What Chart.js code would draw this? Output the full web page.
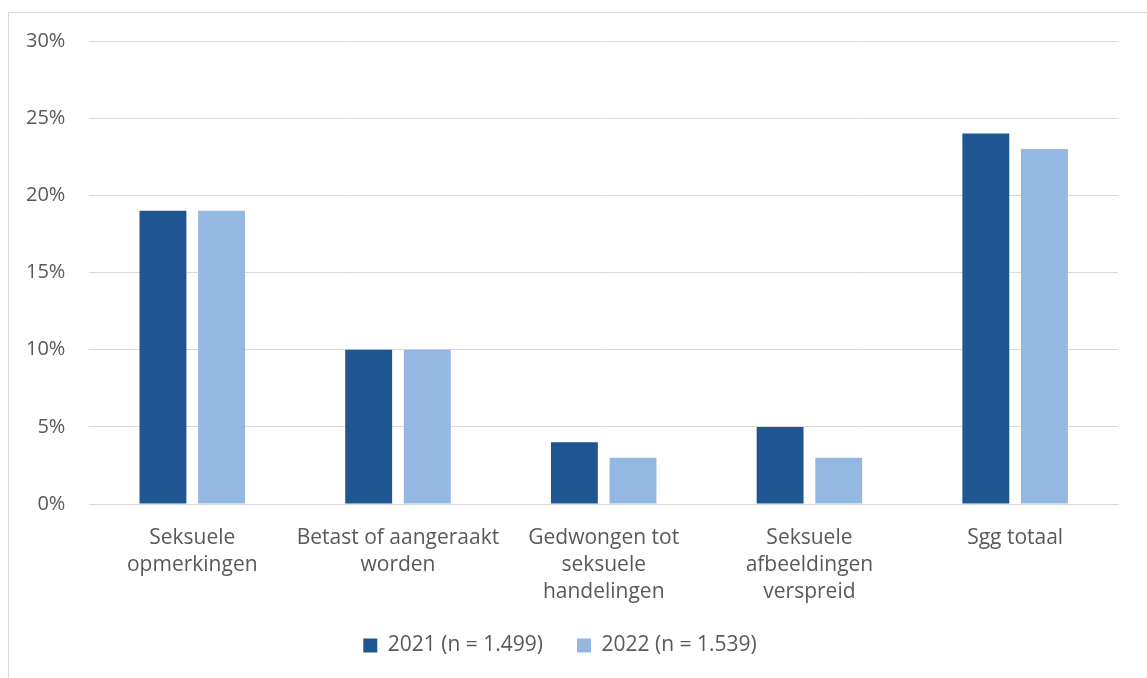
<!DOCTYPE html>
<html>
<head>
<meta charset="utf-8">
<script src="https://cdn.jsdelivr.net/npm/chart.js@4.4.0/dist/chart.umd.min.js"></script>
<style>
  html, body { margin: 0; padding: 0; background: #ffffff; overflow: hidden; }
  #frame {
    position: absolute; left: 8px; top: 12px; width: 1300px; height: 800px;
    border: 1px solid #d9d9d9; box-sizing: border-box;
  }
  #wrap { position: absolute; left: 0; top: 0; width: 1147px; height: 678px; }
</style>
</head>
<body>
<div id="frame"></div>
<div id="wrap"><canvas id="chart"></canvas></div>
<script>
  // Chart data
  const categories = [
    ['Seksuele', 'opmerkingen'],
    ['Betast of aangeraakt', 'worden'],
    ['Gedwongen tot', 'seksuele', 'handelingen'],
    ['Seksuele', 'afbeeldingen', 'verspreid'],
    'Sgg totaal'
  ];
  const values2021 = [19, 10, 4, 5, 24];
  const values2022 = [19, 10, 3, 3, 23];
  const seriesLabels = ['2021 (n = 1.499)', '2022 (n = 1.539)'];
  const yTicks = [0, 5, 10, 15, 20, 25, 30];

  const textColor = '#595959';
  const gridColor = '#d9d9d9';
  const fontFamily = '"Open Sans", "Noto Sans", sans-serif';
  const xAxisTrim = 17;

  // x labels are allowed to run into the space above the legend,
  // so give the label clip area back after the layout is done
  const labelRoom = {
    id: 'labelRoom',
    afterLayout(chart) {
      chart.scales.x.bottom += xAxisTrim;
    }
  };

  new Chart(document.getElementById('chart').getContext('2d'), {
    type: 'bar',
    data: {
      labels: categories,
      datasets: [{
        label: seriesLabels[0],
        data: values2021,
        backgroundColor: '#1f5591',
        categoryPercentage: 0.57,
        barPercentage: 0.8
      }, {
        label: seriesLabels[1],
        data: values2022,
        backgroundColor: '#95b8e3',
        categoryPercentage: 0.57,
        barPercentage: 0.8
      }]
    },
    plugins: [labelRoom],
    options: {
      responsive: true,
      maintainAspectRatio: false,
      animation: false,
      layout: {
        padding: { left: 2, right: 29, top: 41, bottom: 12 }
      },
      plugins: {
        legend: {
          position: 'bottom',
          labels: {
            color: textColor,
            font: { family: fontFamily, size: 21 },
            boxWidth: 14,
            boxHeight: 14,
            padding: 34
          }
        },
        tooltip: { enabled: false }
      },
      scales: {
        y: {
          min: 0,
          max: 30,
          afterBuildTicks: (axis) => {
            axis.ticks = yTicks.map(v => ({ value: v }));
          },
          grid: { color: gridColor, lineWidth: 1, drawTicks: false },
          border: { display: false },
          ticks: {
            color: textColor,
            font: { family: fontFamily, size: 20 },
            padding: 24,
            callback: (v) => v + '%'
          }
        },
        x: {
          afterFit: (scale) => { scale.height -= xAxisTrim; },
          grid: { display: false },
          border: { color: gridColor, width: 1 },
          ticks: {
            color: textColor,
            font: { family: fontFamily, size: 21, lineHeight: 1.3 },
            padding: 12,
            maxRotation: 0,
            autoSkip: false
          }
        }
      }
    }
  });
</script>
</body>
</html>
